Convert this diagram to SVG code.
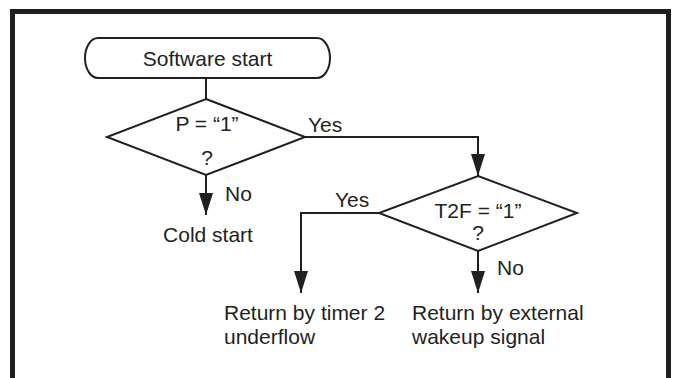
<svg xmlns="http://www.w3.org/2000/svg" width="675" height="378" viewBox="0 0 675 378">
<style>
.t{font-family:"Liberation Sans",Arial,sans-serif;font-size:21px;fill:#231f20}
.c{text-anchor:middle}
.s{fill:#fff;stroke:#231f20;stroke-width:2}
.ln{fill:none;stroke:#231f20;stroke-width:2}
</style>
<defs>
<marker id="ah" markerUnits="userSpaceOnUse" markerWidth="22" markerHeight="14" refX="22" refY="7" orient="auto" viewBox="0 0 22 14">
<polygon points="0,0 22,7 0,14" fill="#231f20"/>
</marker>
</defs>
<rect width="675" height="378" fill="#fff"/>
<path d="M12.5,378 V11.5 H668.5 V378" fill="none" stroke="#231f20" stroke-width="5"/>
<g id="connectors">
<path class="ln" d="M206,78 V99"/>
<path class="ln" d="M305,137 H478 V176" marker-end="url(#ah)"/>
<path class="ln" d="M206,175 V215" marker-end="url(#ah)"/>
<path class="ln" d="M379,213 H301 V293" marker-end="url(#ah)"/>
<path class="ln" d="M478,251 V293" marker-end="url(#ah)"/>
<text class="t" x="308" y="132">Yes</text>
<text class="t" x="225" y="201">No</text>
<text class="t" x="335" y="207">Yes</text>
<text class="t" x="497" y="275">No</text>
</g>
<g id="start">
<rect class="s" x="85" y="38" width="245" height="40" rx="13" ry="20"/>
<text class="t c" x="207.5" y="66">Software start</text>
</g>
<g id="decision1">
<polygon class="s" points="206,99 305,137 206,175 107,137"/>
<text class="t c" x="207" y="131">P = “1”</text>
<text class="t c" x="207" y="165">?</text>
</g>
<g id="decision2">
<polygon class="s" points="478,176 577,213 478,251 379,213"/>
<text class="t c" x="478" y="218">T2F = “1”</text>
<text class="t c" x="478" y="240">?</text>
</g>
<g id="cold">
<text class="t c" x="208" y="242">Cold start</text>
</g>
<g id="timer">
<text class="t" x="224" y="320">Return by timer 2</text>
<text class="t" x="224" y="344">underflow</text>
</g>
<g id="external">
<text class="t" x="412" y="320">Return by external</text>
<text class="t" x="412" y="344">wakeup signal</text>
</g>
</svg>
